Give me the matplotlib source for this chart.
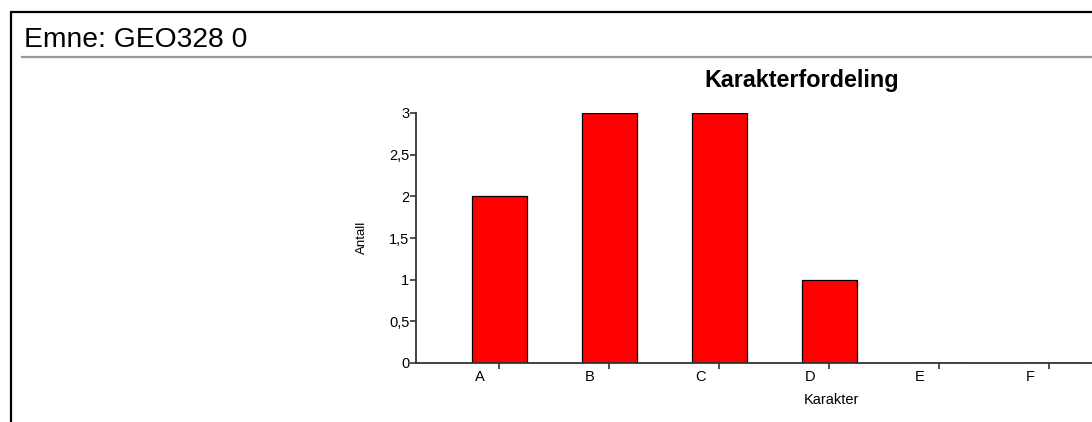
import matplotlib.pyplot as plt
import matplotlib.transforms as mtransforms
from matplotlib.patches import Rectangle
from matplotlib.lines import Line2D

plt.rcParams['font.family'] = ['Liberation Sans', 'DejaVu Sans']

karakterer = ['A', 'B', 'C', 'D', 'E', 'F']
antall = [2, 3, 3, 1, 0, 0]
yticks = [0, 0.5, 1, 1.5, 2, 2.5, 3]
ylabels = ['0', '0,5', '1', '1,5', '2', '2,5', '3']

W, H = 1092, 422
fig = plt.figure(figsize=(W / 100, H / 100), dpi=100)

# outer frame and header
fig.patches.append(Rectangle((11 / W, -0.1), 1.2, 1 - 12 / H + 0.1, transform=fig.transFigure,
                             fill=False, edgecolor='black', linewidth=1.6))
fig.text(24 / W, 1 - 40 / H, 'Emne: GEO328 0', fontsize=20.3, va='center', ha='left')
fig.lines.append(Line2D([22 / W, 1.1], [1 - 57 / H, 1 - 57 / H], transform=fig.transFigure,
                        color='#999999', linewidth=1.6))

# axes geometry: x from px 416, A at 499, spacing 110
left_px, bottom_px, top_px = 416, 363, 113
ax = fig.add_axes([left_px / W, 1 - bottom_px / H, 1 - left_px / W + 0.05, (bottom_px - top_px) / H])
x = list(range(len(karakterer)))
ax.bar(x, antall, width=0.5, color='#ff0000', edgecolor='black', linewidth=0.9)

xmin = -(499 - left_px) / 110
xmax = xmin + (W + 0.05 * W - left_px) / 110
ax.set_xlim(xmin, xmax)
ax.set_ylim(0, 3)
ax.set_xticks(x)
ax.set_xticklabels(karakterer, fontsize=10.5)
ax.set_yticks(yticks)
ax.set_yticklabels(ylabels, fontsize=10.5)

for s in ['top', 'right']:
    ax.spines[s].set_visible(False)
for s in ['left', 'bottom']:
    ax.spines[s].set_linewidth(1.3)
    ax.spines[s].set_color('#333333')
ax.tick_params(axis='both', length=4.3, width=1.2, color='#333333', pad=0.5)
ax.tick_params(axis='x', pad=1)

# x labels sit left of their ticks
offset = mtransforms.ScaledTranslation(-19 / 100, 0, fig.dpi_scale_trans)
for lbl in ax.get_xticklabels():
    lbl.set_transform(lbl.get_transform() + offset)

fig.text(802 / W, 1 - 80 / H, 'Karakterfordeling', fontsize=16.8, fontweight='bold', ha='center', va='center')
fig.text(831 / W, 1 - 400 / H, 'Karakter', fontsize=10.5, ha='center', va='center')
fig.text(362 / W, 1 - 237 / H, 'Antall', fontsize=9.5, rotation=90, ha='center', va='center')

fig.savefig('out.png', dpi=100)
